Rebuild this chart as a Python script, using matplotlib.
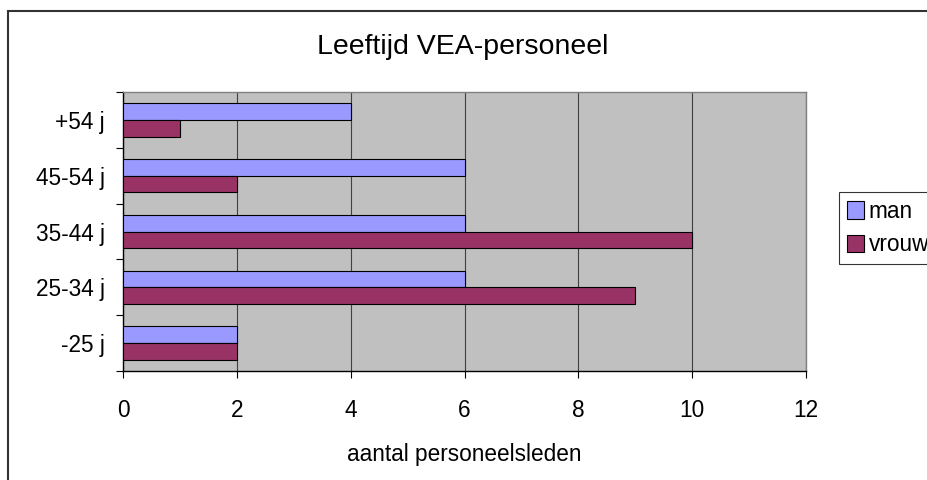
import numpy as np
import matplotlib.pyplot as plt
from matplotlib.patches import Rectangle

# Data
categories = ['-25 j', '25-34 j', '35-44 j', '45-54 j', '+54 j']
man = [2, 6, 6, 6, 4]
vrouw = [2, 9, 10, 2, 1]

plt.rcParams['font.family'] = ['Liberation Sans', 'DejaVu Sans']

fig = plt.figure(figsize=(9.28, 4.8), dpi=100)

# outer chart frame (runs off the right and bottom edge like the reference)
fig.patches.append(Rectangle((8.5 / 928, -0.05), 1.0, 1 - 11.5 / 480 + 0.05,
                             transform=fig.transFigure, fill=False,
                             edgecolor='#333333', linewidth=1.5, zorder=0))

ax = fig.add_axes([123 / 928, 1 - 371 / 480, (806 - 123) / 928, (371 - 92) / 480])
ax.set_facecolor('#C0C0C0')

y = np.arange(len(categories))
h = 0.3
ax.barh(y + h / 2, man, height=h, color='#9999FF', edgecolor='black', linewidth=0.8, label='man', zorder=3)
ax.barh(y - h / 2, vrouw, height=h, color='#993366', edgecolor='black', linewidth=0.8, label='vrouw', zorder=3)

ax.set_xlim(0, 12)
ax.set_ylim(-0.5, len(categories) - 0.5)
ax.set_xticks(range(0, 13, 2))
ax.xaxis.grid(True, color='#404040', linewidth=0.8, zorder=1)
ax.set_axisbelow(True)

ax.set_yticks(y)
ax.set_yticklabels(categories)
ax.set_yticks(np.arange(-0.5, len(categories), 1), minor=True)
ax.tick_params(axis='y', which='major', length=0, pad=13, labelsize=16.3)
ax.tick_params(axis='y', which='minor', length=5, width=0.8, direction='out')
ax.tick_params(axis='x', length=5, width=0.8, direction='out', pad=15, labelsize=16.3)

for s in ['left', 'bottom']:
    ax.spines[s].set_color('black')
    ax.spines[s].set_linewidth(1.0)
for s in ['top', 'right']:
    ax.spines[s].set_color('#808080')
    ax.spines[s].set_linewidth(1.0)

ax.set_xlabel('aantal personeelsleden', fontsize=16.3, labelpad=15)
fig.text(463 / 928, 1 - 47 / 480, 'Leeftijd VEA-personeel', fontsize=20.5, ha='center', va='center')

leg = fig.legend(loc='lower left', bbox_to_anchor=(839 / 928, 1 - 264 / 480), fontsize=16.3,
                 frameon=True, fancybox=False, edgecolor='black', borderpad=0.35,
                 handlelength=0.75, handleheight=0.8, handletextpad=0.2, labelspacing=0.45,
                 borderaxespad=0)
leg.get_frame().set_linewidth(0.8)

fig.savefig('out.png', dpi=100)
